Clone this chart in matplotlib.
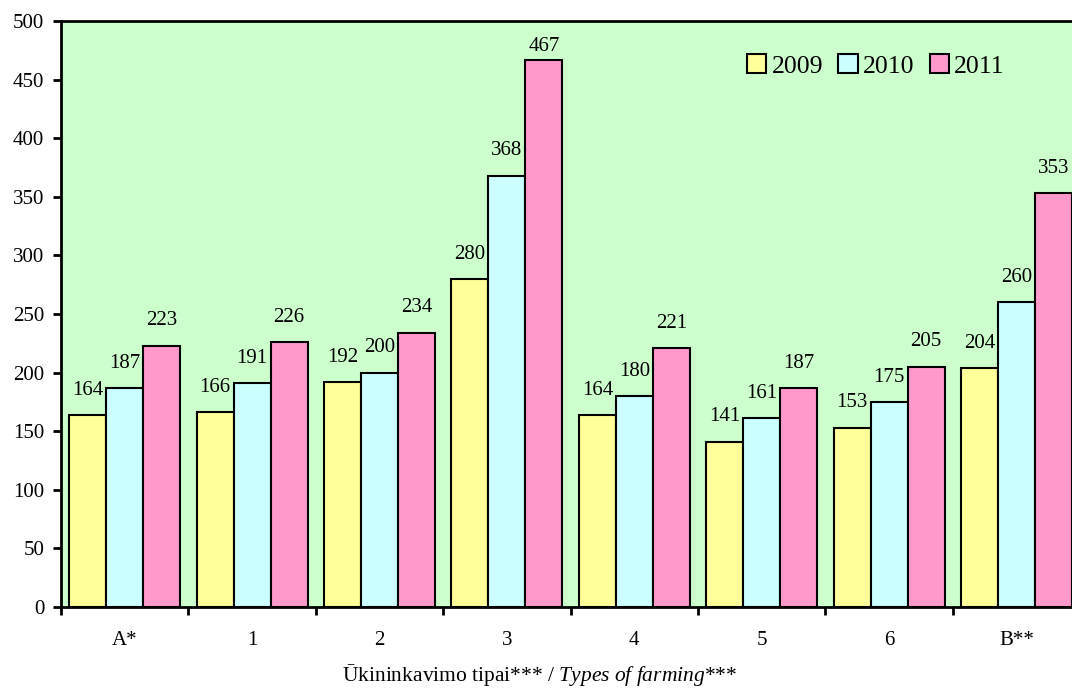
import matplotlib
matplotlib.use("Agg")
import matplotlib.pyplot as plt
import numpy as np
from matplotlib.patches import Patch

categories = ["A*", "1", "2", "3", "4", "5", "6", "B**"]
v2009 = [164, 166, 192, 280, 164, 141, 153, 204]
v2010 = [187, 191, 200, 368, 180, 161, 175, 260]
v2011 = [223, 226, 234, 467, 221, 187, 205, 353]
series_names = ["2009", "2010", "2011"]
colors = ["#FFFF99", "#CCFFFF", "#FF99CC"]

plt.rcParams['font.family'] = ['Liberation Serif', 'DejaVu Serif']
plt.rcParams['mathtext.fontset'] = 'custom'
plt.rcParams['mathtext.rm'] = 'Liberation Serif'
plt.rcParams['mathtext.it'] = 'Liberation Serif:italic'

W, H = 1072, 688
fig = plt.figure(figsize=(W / 100, H / 100), dpi=100)
left, right, top, bottom = 61, 61 + 8 * 127.4, 21, 607
ax = fig.add_axes([left / W, 1 - bottom / H, (right - left) / W, (bottom - top) / H])
ax.set_facecolor("#CCFFCC")

fs = 15
ymax = 500
x = np.arange(len(categories))
w = 0.29
for i, (vals, c) in enumerate(zip([v2009, v2010, v2011], colors)):
    bars = ax.bar(x + (i - 1) * w, vals, width=w, color=c, edgecolor="black", linewidth=1.5, zorder=2)
    for b, v in zip(bars, vals):
        off = 11 if v < 0.9 * ymax else 3
        ax.annotate(str(v), (b.get_x() + b.get_width() / 2, v), xytext=(0, off),
                    textcoords="offset points", ha="center", va="bottom", fontsize=fs)

ax.set_xlim(-0.5, len(categories) - 0.5)
ax.set_ylim(0, ymax)
ax.set_yticks(range(0, ymax + 1, 50))
ax.set_xticks(x)
ax.set_xticklabels(categories, fontsize=fs)
ax.set_xticks(np.arange(-0.5, len(categories), 1), minor=True)
ax.tick_params(axis='x', which='major', length=0, pad=17)
ax.tick_params(axis='x', which='minor', length=6, width=2, direction='out')
ax.tick_params(axis='y', length=6, width=2, direction='out', labelsize=fs, pad=6)
for s in ax.spines.values():
    s.set_linewidth(2)
ax.spines['right'].set_visible(False)

fig.text(540 / W, 1 - 675 / H,
         "Ūkininkavimo tipai*** / $\\mathit{Types\\ of\\ farming}$***",
         fontsize=15.5, ha="center", va="center")

handles = [Patch(facecolor=c, edgecolor="black", linewidth=1.5) for c in colors]
fig.legend(handles, series_names, loc="center left", bbox_to_anchor=(747 / W, 1 - 66 / H),
           ncol=3, frameon=False, fontsize=18.5, handlelength=0.75, handleheight=0.75,
           handletextpad=0.2, columnspacing=0.6, borderpad=0, borderaxespad=0)

fig.savefig("out.png", dpi=100)
